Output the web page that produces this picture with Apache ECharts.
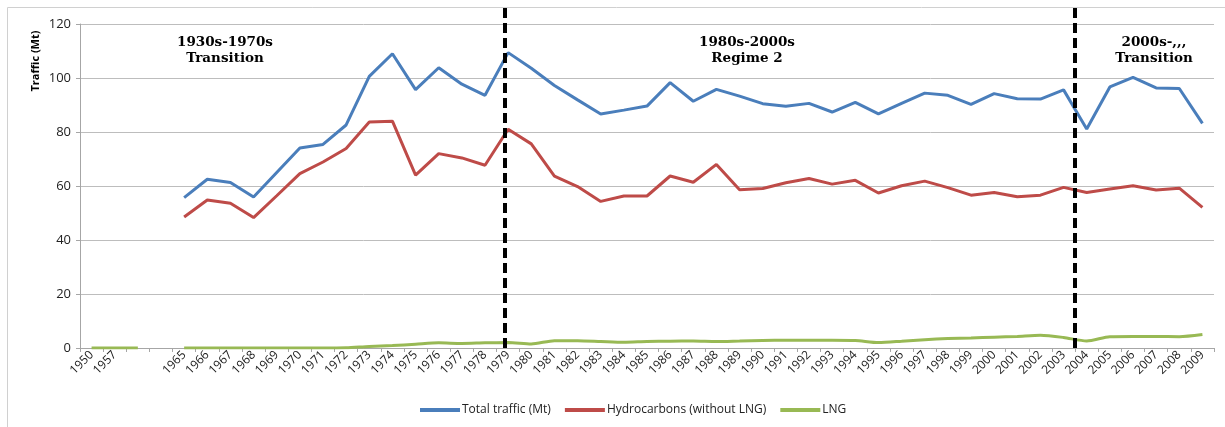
<!DOCTYPE html>
<html>
<head>
<meta charset="utf-8">
<script src="https://cdn.jsdelivr.net/npm/echarts@6/dist/echarts.min.js"></script>
<style>
  html, body { margin: 0; padding: 0; background: #ffffff; }
  #chart { width: 1225px; height: 427px; }
</style>
</head>
<body>
<div id="chart"></div>
<script>
// Year categories (two unlabelled slots between 1957 and 1965)
const years = ['1950', '1957', '', '',
  '1965', '1966', '1967', '1968', '1969', '1970', '1971', '1972', '1973', '1974',
  '1975', '1976', '1977', '1978', '1979', '1980', '1981', '1982', '1983', '1984',
  '1985', '1986', '1987', '1988', '1989', '1990', '1991', '1992', '1993', '1994',
  '1995', '1996', '1997', '1998', '1999', '2000', '2001', '2002', '2003', '2004',
  '2005', '2006', '2007', '2008', '2009'];

// Total traffic (Mt)
const totalTraffic = [null, null, null, null,
  55.7, 62.5, 61.3, 55.9, 65.0, 74.1, 75.4, 82.6, 100.6, 109.0, 95.7, 103.8, 97.7, 93.6, 109.4,
  103.6, 97.2, 91.9, 86.7, 88.1, 89.6, 98.3, 91.4, 95.8, 93.3, 90.5, 89.5, 90.6, 87.4, 91.0,
  86.7, 90.6, 94.4, 93.6, 90.2, 94.2, 92.3, 92.2, 95.6, 81.1, 96.7, 100.2, 96.3, 96.1, 83.2];

// Hydrocarbons (without LNG)
const hydrocarbons = [null, null, null, null,
  48.5, 54.8, 53.6, 48.3, 56.4, 64.6, 68.9, 73.9, 83.7, 84.0, 64.0, 72.0, 70.4, 67.7, 81.0,
  75.6, 63.7, 59.8, 54.3, 56.3, 56.3, 63.7, 61.4, 68.0, 58.6, 59.1, 61.2, 62.8, 60.7, 62.1,
  57.4, 60.1, 61.8, 59.4, 56.6, 57.6, 56.0, 56.6, 59.5, 57.6, 58.9, 60.1, 58.5, 59.2, 52.1];

// LNG
const lng = [0, 0, 0, null,
  0, 0, 0, 0, 0, 0, 0, 0.1, 0.6, 0.9, 1.4, 1.9, 1.7, 1.9, 2.0,
  1.5, 2.7, 2.7, 2.4, 2.1, 2.4, 2.5, 2.6, 2.4, 2.6, 2.8, 2.9, 2.9, 2.9, 2.8,
  2.0, 2.5, 3.1, 3.5, 3.7, 4.0, 4.3, 4.7, 3.9, 2.6, 4.2, 4.3, 4.3, 4.2, 5.0];

const yTicks = { min: 0, max: 120, interval: 20 };

// Period annotations: [text, centre x]
const periods = [
  ['1930s-1970s\nTransition', 225],
  ['1980s-2000s\nRegime 2', 747],
  ['2000s-,,,\nTransition', 1154]
];

// Period boundaries expressed as fractional category positions
const boundaries = [17.85, 42.5];

const seriesNames = ['Total traffic (Mt)', 'Hydrocarbons (without LNG)', 'LNG'];
const colors = ['#4a7ebb', '#be4b48', '#98b954'];

const chart = echarts.init(document.getElementById('chart'), null, { renderer: 'canvas' });

const axisFont = { fontFamily: 'Open Sans', color: '#222' };

const option = {
  animation: false,
  color: colors,
  grid: { left: 80, right: 11, top: 24, bottom: 79, containLabel: false },
  xAxis: {
    type: 'category',
    data: years,
    boundaryGap: true,
    axisLine: { lineStyle: { color: '#a6a6a6', width: 1 } },
    axisTick: { show: true, alignWithLabel: false, interval: 0, length: 4, lineStyle: { color: '#a6a6a6' } },
    axisLabel: Object.assign({ interval: 0, rotate: 45, fontSize: 12, margin: 5 }, axisFont),
    splitLine: { show: false }
  },
  yAxis: {
    type: 'value',
    min: yTicks.min, max: yTicks.max, interval: yTicks.interval,
    axisLine: { show: true, lineStyle: { color: '#a6a6a6', width: 1 } },
    axisTick: { show: true, length: 4, lineStyle: { color: '#a6a6a6' } },
    axisLabel: Object.assign({ fontSize: 13, margin: 9 }, axisFont),
    splitLine: { show: true, lineStyle: { color: '#bdbdbd', width: 1 } }
  },
  legend: {
    bottom: 6,
    left: 415,
    icon: 'rect',
    itemWidth: 40,
    itemHeight: 4,
    itemGap: 14,
    textStyle: { fontFamily: 'Open Sans', fontSize: 12, color: '#222', padding: [0, 0, 0, -3] },
    data: seriesNames
  },
  series: [
    { name: seriesNames[0], type: 'line', data: totalTraffic, showSymbol: false, symbol: 'none',
      lineStyle: { width: 3, color: colors[0] }, connectNulls: false },
    { name: seriesNames[1], type: 'line', data: hydrocarbons, showSymbol: false, symbol: 'none',
      lineStyle: { width: 3, color: colors[1] }, connectNulls: false },
    { name: seriesNames[2], type: 'line', data: lng, showSymbol: false, symbol: 'none', smooth: 0.25,
      lineStyle: { width: 3, color: colors[2] }, connectNulls: false }
  ]
};

chart.setOption(option);

// Place outer frame, axis title, period texts and dashed boundaries
function catPx(pos) {
  const i = Math.floor(pos);
  const f = pos - i;
  const a = chart.convertToPixel({ xAxisIndex: 0 }, i);
  const b = chart.convertToPixel({ xAxisIndex: 0 }, i + 1);
  return a + (b - a) * f;
}

const yBottom = chart.convertToPixel({ yAxisIndex: 0 }, 0);

const graphics = [
  { type: 'rect', z: -1, silent: true,
    shape: { x: 7.5, y: 7.5, width: 1240, height: 440 },
    style: { fill: 'none', stroke: '#d0d0d0', lineWidth: 1 } },
  { type: 'text', x: 36, y: 61, rotation: Math.PI / 2,
    style: { text: 'Traffic (Mt)', font: 'bold 11px "Open Sans"', fill: '#000',
      textAlign: 'center', textVerticalAlign: 'middle' } }
];

periods.forEach(function (p) {
  graphics.push({ type: 'text', x: p[1], y: 50,
    style: { text: p[0], font: 'bold 13.5px "DejaVu Serif"', fill: '#000', lineHeight: 16,
      textAlign: 'center', textVerticalAlign: 'middle' } });
});

boundaries.forEach(function (b) {
  const x = Math.round(catPx(b));
  graphics.push({ type: 'line', z: 10, silent: true,
    shape: { x1: x, y1: 8, x2: x, y2: yBottom },
    style: { stroke: '#000', lineWidth: 4, lineDash: [10, 5] } });
});

chart.setOption({ graphic: graphics });
</script>
</body>
</html>
